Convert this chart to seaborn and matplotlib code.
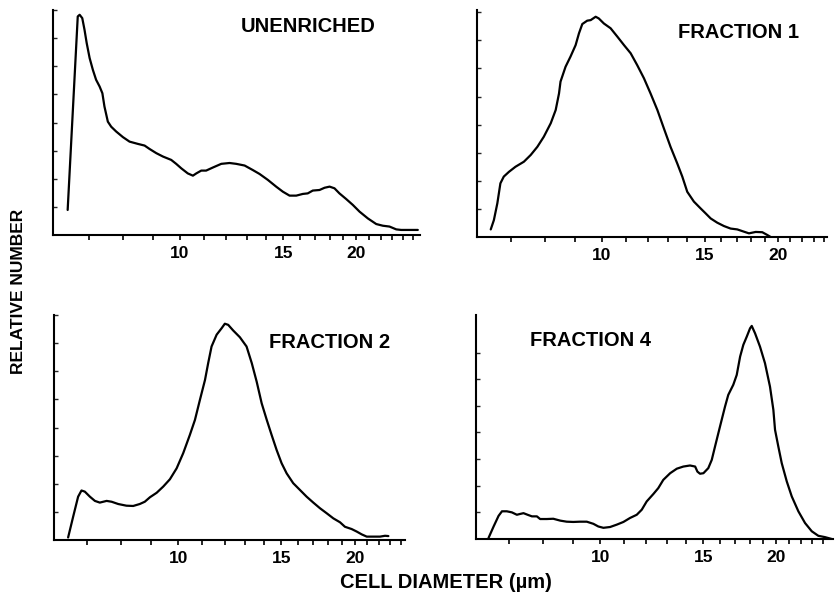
import numpy as np
import pandas as pd
import matplotlib
matplotlib.use("Agg")
import matplotlib.pyplot as plt
from matplotlib.ticker import FixedLocator, FixedFormatter, NullLocator
import seaborn as sns

# ---------------- data (cell diameter in um, relative number) ----------------
unenriched_x = [6.43, 6.69, 6.74, 6.81, 6.87, 6.93, 7.01, 7.10, 7.19, 7.29, 7.37, 7.43,
                7.53, 7.63, 7.78, 7.99, 8.20, 8.47, 8.70, 8.87, 9.11, 9.35, 9.66, 9.85,
                10.05, 10.31, 10.52, 10.66, 10.87, 11.08, 11.38, 11.76, 12.15, 12.47,
                12.89, 13.31, 13.67, 14.12, 14.59, 14.98, 15.38, 15.79, 16.20, 16.52,
                16.85, 17.30, 17.65, 18.00, 18.35, 18.71, 19.21, 19.72, 20.25, 20.92,
                21.62, 22.19, 22.78, 23.39, 23.85, 24.64, 25.46]
unenriched_y = [0.89, 7.77, 7.83, 7.71, 7.30, 6.82, 6.29, 5.87, 5.52, 5.28, 5.04, 4.57,
                4.03, 3.85, 3.68, 3.48, 3.32, 3.24, 3.18, 3.06, 2.91, 2.79, 2.67, 2.53,
                2.37, 2.19, 2.11, 2.19, 2.29, 2.29, 2.40, 2.53, 2.56, 2.53,
                2.47, 2.31, 2.17, 1.96, 1.72, 1.54, 1.40, 1.40, 1.46, 1.48,
                1.58, 1.60, 1.68, 1.72, 1.66, 1.48, 1.28, 1.07, 0.83, 0.59,
                0.39, 0.33, 0.30, 0.20, 0.18, 0.18, 0.18]

fraction1_x = [6.47, 6.55, 6.64, 6.72, 6.81, 6.95, 7.13, 7.37, 7.57, 7.77, 7.97, 8.19,
               8.35, 8.46, 8.51, 8.68, 8.85, 9.03, 9.15, 9.27, 9.45, 9.58, 9.77, 9.89,
               10.09, 10.36, 10.64, 10.92, 11.21, 11.50, 11.81, 12.12, 12.45, 12.77,
               13.11, 13.46, 13.73, 14.00, 14.37, 14.75, 15.05, 15.35, 15.75, 16.17,
               16.60, 17.04, 17.49, 17.84, 18.32, 18.80, 19.18, 19.43]
fraction1_y = [0.27, 0.60, 1.20, 1.91, 2.15, 2.32, 2.50, 2.68, 2.92, 3.21, 3.57, 4.05,
               4.52, 5.11, 5.53, 6.06, 6.42, 6.83, 7.25, 7.58, 7.70, 7.72, 7.84, 7.78,
               7.60, 7.43, 7.13, 6.83, 6.54, 6.12, 5.65, 5.11, 4.52, 3.87,
               3.21, 2.62, 2.15, 1.61, 1.26, 1.02, 0.84, 0.66, 0.51, 0.39,
               0.30, 0.27, 0.19, 0.13, 0.18, 0.17, 0.07, 0.00]

fraction2_x = [6.49, 6.62, 6.75, 6.84, 6.93, 7.07, 7.21, 7.35, 7.55, 7.70, 7.90, 8.16,
               8.38, 8.60, 8.77, 8.95, 9.19, 9.43, 9.68, 9.94, 10.20, 10.47, 10.68,
               10.89, 11.11, 11.25, 11.40, 11.63, 11.86, 12.01, 12.17, 12.41, 12.74,
               13.08, 13.35, 13.61, 13.88, 14.16, 14.43, 14.72, 15.01, 15.31, 15.71,
               16.13, 16.56, 17.00, 17.45, 17.92, 18.39, 18.88, 19.25, 19.76, 20.16,
               20.56, 20.97, 21.52, 22.09, 22.53, 22.83]
fraction2_y = [0.09, 0.83, 1.54, 1.76, 1.72, 1.54, 1.39, 1.33, 1.39, 1.36, 1.28, 1.22,
               1.21, 1.28, 1.36, 1.52, 1.68, 1.90, 2.16, 2.55, 3.09, 3.74, 4.27,
               4.98, 5.69, 6.29, 6.88, 7.30, 7.53, 7.69, 7.65, 7.45, 7.21,
               6.88, 6.29, 5.63, 4.86, 4.27, 3.74, 3.20, 2.73, 2.37, 2.02,
               1.78, 1.54, 1.33, 1.13, 0.95, 0.77, 0.63, 0.47, 0.39, 0.30,
               0.20, 0.12, 0.12, 0.12, 0.15, 0.14]

fraction4_x = [6.45, 6.58, 6.71, 6.80, 6.93, 7.07, 7.21, 7.30, 7.40, 7.52, 7.65, 7.80,
               7.90, 8.11, 8.32, 8.55, 8.77, 9.00, 9.24, 9.49, 9.74, 9.93, 10.13, 10.40,
               10.68, 10.96, 11.25, 11.55, 11.78, 12.01, 12.33, 12.57, 12.82, 13.17,
               13.52, 13.87, 14.24, 14.53, 14.66, 14.81, 15.01, 15.30, 15.51, 15.71,
               16.02, 16.34, 16.55, 16.88, 17.11, 17.34, 17.56, 17.80, 18.03, 18.15,
               18.39, 18.75, 19.12, 19.50, 19.76, 19.89, 20.15, 20.42, 20.83, 21.24,
               21.80, 22.38, 22.98, 23.58, 24.21, 24.86]
fraction4_y = [0.04, 0.47, 0.87, 1.04, 1.04, 1.00, 0.91, 0.94, 0.97, 0.91, 0.85, 0.85,
               0.75, 0.75, 0.76, 0.69, 0.65, 0.64, 0.65, 0.65, 0.57, 0.47, 0.42, 0.45,
               0.54, 0.64, 0.79, 0.91, 1.10, 1.41, 1.69, 1.91, 2.22, 2.47,
               2.64, 2.72, 2.76, 2.72, 2.53, 2.45, 2.47, 2.66, 2.97, 3.47,
               4.22, 4.97, 5.41, 5.79, 6.16, 6.85, 7.29, 7.60, 7.91, 8.00,
               7.72, 7.22, 6.60, 5.72, 4.85, 4.10, 3.47, 2.85, 2.16, 1.60,
               1.04, 0.60, 0.29, 0.12, 0.07, 0.00]

panel_titles = ["UNENRICHED", "FRACTION 1", "FRACTION 2", "FRACTION 4"]
x_tick_labels = ["10", "15", "20"]
x_label = "CELL DIAMETER (\u00b5m)"
y_label = "RELATIVE NUMBER"

# ---------------- style ----------------
sns.set_style("ticks")
plt.rcParams["font.family"] = ["Liberation Sans", "DejaVu Sans"]
plt.rcParams["font.weight"] = "bold"

W, H = 835, 593
fig = plt.figure(figsize=(W / 100, H / 100), dpi=100)

def axes_px(left, right, top, bottom):
    return fig.add_axes([left / W, (H - bottom) / H, (right - left) / W, (bottom - top) / H])

panels = [
    dict(x=unenriched_x, y=unenriched_y, title=panel_titles[0],
         box=(53, 420, 10, 235), xlim=(6.07, 25.68), ylim=(0, 8.0), yt=range(1, 9),
         tpos=(308, 27)),
    dict(x=fraction1_x, y=fraction1_y, title=panel_titles[1],
         box=(477, 827, 10, 237), xlim=(6.13, 24.24), ylim=(0, 8.08), yt=range(1, 9),
         tpos=(739, 32)),
    dict(x=fraction2_x, y=fraction2_y, title=panel_titles[2],
         box=(54, 405, 315, 540), xlim=(6.14, 24.37), ylim=(0, 8.0), yt=range(1, 9),
         tpos=(330, 343)),
    dict(x=fraction4_x, y=fraction4_y, title=panel_titles[3],
         box=(476, 833, 315, 539), xlim=(6.14, 24.98), ylim=(0, 8.41), yt=range(1, 8),
         tpos=(590, 341)),
]

for p in panels:
    ax = axes_px(*p["box"])
    df = pd.DataFrame({"d": p["x"], "n": p["y"]})
    sns.lineplot(data=df, x="d", y="n", ax=ax, color="black", linewidth=1.6,
                 estimator=None, sort=False)
    ax.set_xscale("log")
    ax.set_xlim(*p["xlim"])
    ax.set_ylim(*p["ylim"])
    sns.despine(ax=ax)
    for s in ("left", "bottom"):
        ax.spines[s].set_linewidth(1.5)
        ax.spines[s].set_color("black")
    ticks = [t for t in range(7, 26) if p["xlim"][0] < t < p["xlim"][1]]
    labels = [str(t) if str(t) in x_tick_labels else "" for t in ticks]
    ax.xaxis.set_major_locator(FixedLocator(ticks))
    ax.xaxis.set_major_formatter(FixedFormatter(labels))
    ax.xaxis.set_minor_locator(NullLocator())
    ax.set_yticks(list(p["yt"]))
    ax.set_yticklabels([])
    ax.tick_params(axis="x", direction="out", length=3.5, width=1.2, pad=4.5,
                   labelsize=12.5, colors="black")
    ax.tick_params(axis="y", direction="in", length=3, width=1.0)
    for lab in ax.get_xticklabels():
        lab.set_fontweight("bold")
    ax.set_xlabel("")
    ax.set_ylabel("")
    ax.set_facecolor("white")
    fig.text(p["tpos"][0] / W, 1 - p["tpos"][1] / H, p["title"], ha="center", va="center",
             fontsize=14.5, fontweight="bold", color="black")

fig.text(446 / W, 1 - 583 / H, x_label, ha="center", va="center", fontsize=14.5,
         fontweight="bold", color="black")
fig.text(19 / W, 1 - 291 / H, y_label, ha="center", va="center", rotation=90,
         fontsize=12.5, fontweight="bold", color="black")

fig.savefig("out.png", dpi=100, facecolor="white")
